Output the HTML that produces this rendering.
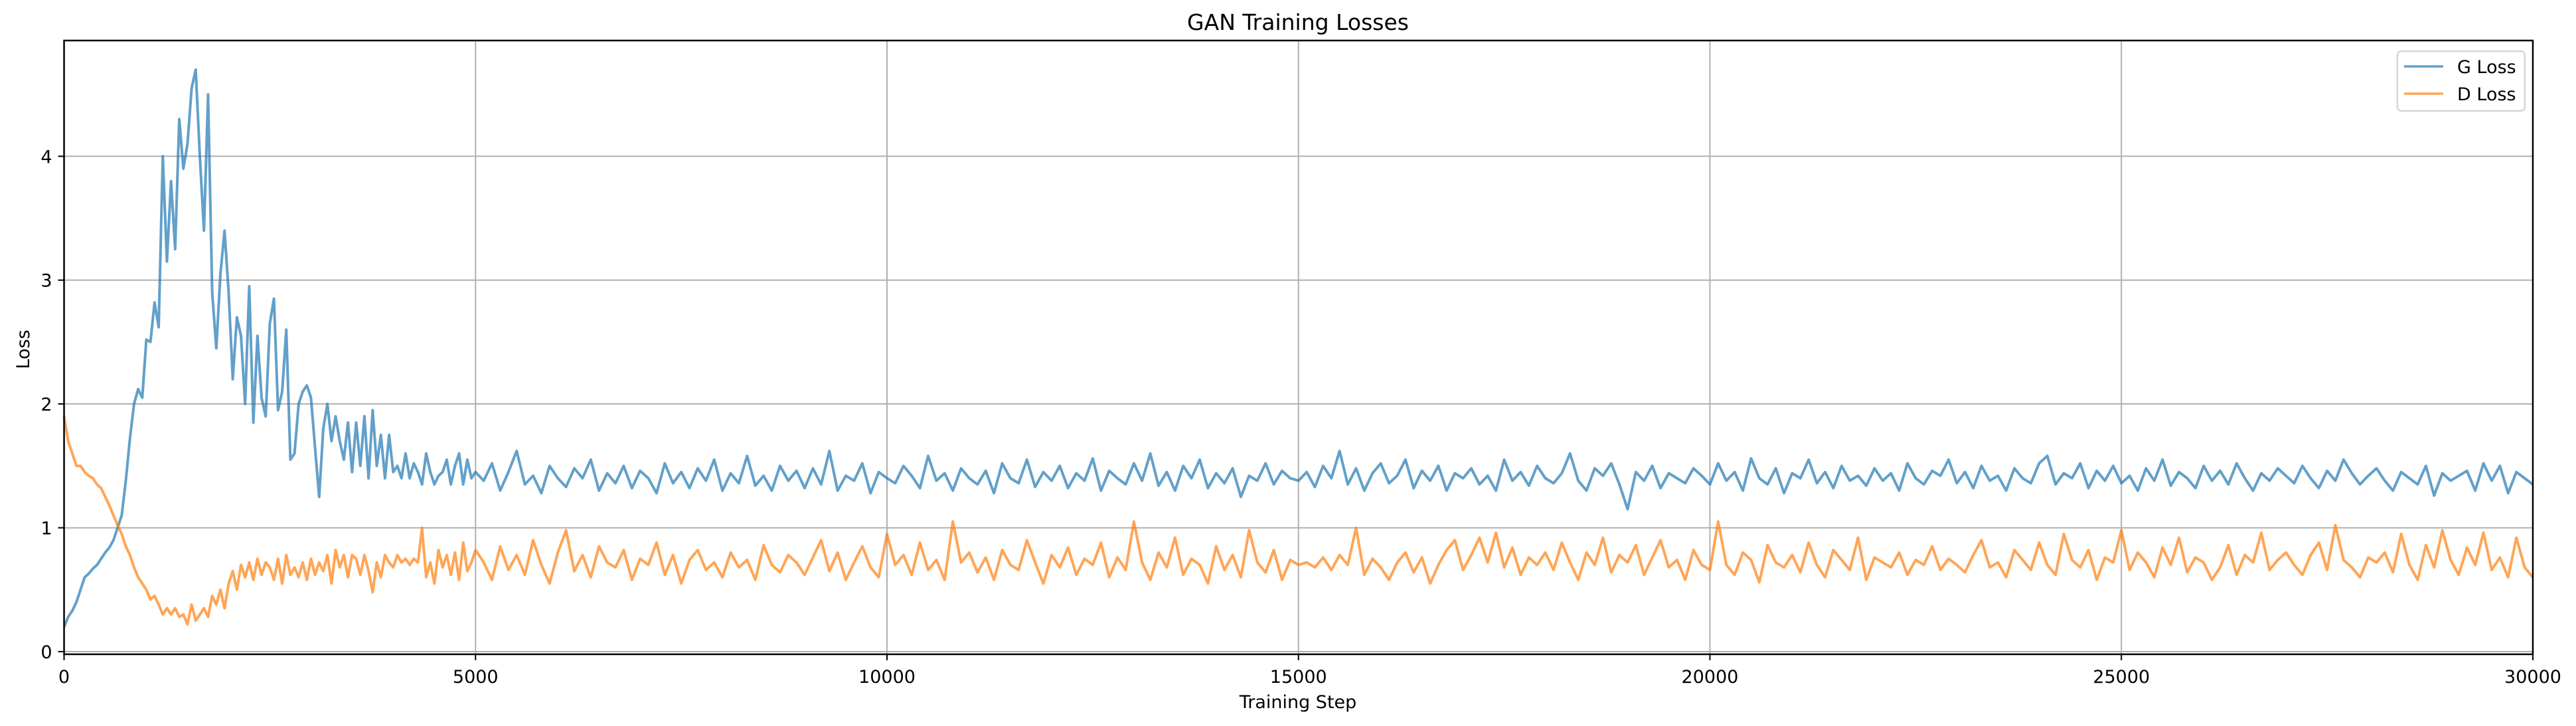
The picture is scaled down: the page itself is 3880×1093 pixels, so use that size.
<!DOCTYPE html>
<html><head><meta charset="utf-8"><style>
html,body{margin:0;padding:0;background:#fff;}
svg{display:block;font-family:"DejaVu Sans","Liberation Sans",sans-serif;}
</style></head><body>
<svg id="chart" width="3880" height="1093" viewBox="0 0 3880 1093" xmlns="http://www.w3.org/2000/svg">
<rect width="3880" height="1093" fill="#fff"/>
<text x="1955" y="45" font-size="33" text-anchor="middle" fill="#000">GAN Training Losses</text>
<text x="1955" y="1066" font-size="27" text-anchor="middle" fill="#000">Training Step</text>
<text x="0" y="0" font-size="27" text-anchor="middle" fill="#000" transform="translate(44,526) rotate(-90)">Loss</text>
<g id="grid"></g>
<g id="series"></g>
<g id="axes"></g>
<g>
<rect x="3611" y="77" width="192" height="90" rx="6" fill="#fff" fill-opacity="0.8" stroke="#d6d6d6" stroke-width="2.5"/>
<line x1="3621" y1="100" x2="3680" y2="100" stroke="#1f77b4" stroke-opacity="0.7" stroke-width="3.5"/>
<text x="3701" y="110" font-size="27" fill="#000">G Loss</text>
<line x1="3621" y1="141" x2="3680" y2="141" stroke="#ff7f0e" stroke-opacity="0.7" stroke-width="3.5"/>
<text x="3701" y="151" font-size="27" fill="#000">D Loss</text>
</g>
</svg>
<script>
const xTicks = [0,5000,10000,15000,20000,25000,30000];
const yTicks = [0,1,2,3,4];
const gLoss = [
0.20,0.28,0.33,0.40,0.50,0.60,0.63,0.67,0.70,0.75,0.80,0.84,0.90,1.00,1.10,1.38,1.72,2.00,2.12,2.05,
2.52,2.50,2.82,2.62,4.00,3.15,3.80,3.25,4.30,3.90,4.10,4.55,4.70,4.00,3.40,4.50,2.90,2.45,3.05,3.40,
2.90,2.20,2.70,2.55,2.00,2.95,1.85,2.55,2.05,1.90,2.65,2.85,1.95,2.10,2.60,1.55,1.60,2.00,2.10,2.15,
2.05,1.65,1.25,1.80,2.00,1.70,1.90,1.70,1.55,1.85,1.45,1.85,1.50,1.90,1.40,1.95,1.50,1.75,1.40,1.75,
1.45,1.50,1.40,1.60,1.40,1.52,1.45,1.35,1.60,1.45,1.35,1.42,1.45,1.55,1.35,1.50,1.60,1.35,1.55,1.40,1.45,
1.38,1.52,1.30,1.45,1.62,1.35,1.42,1.28,1.50,1.40,
1.33,1.48,1.40,1.55,1.30,1.44,1.36,1.50,1.32,1.46,
1.40,1.28,1.52,1.36,1.45,1.32,1.48,1.38,1.55,1.30,
1.44,1.36,1.58,1.34,1.42,1.30,1.50,1.38,1.46,1.32,
1.48,1.35,1.62,1.30,1.42,1.38,1.52,1.28,1.45,1.40,
1.36,1.50,1.42,1.32,1.58,1.38,1.44,1.30,1.48,1.40,
1.35,1.46,1.28,1.52,1.40,1.36,1.55,1.33,1.45,1.38,
1.50,1.32,1.44,1.38,1.56,1.30,1.46,1.40,1.35,1.52,
1.38,1.60,1.34,1.45,1.30,1.50,1.40,1.55,1.32,1.44,
1.36,1.48,1.25,1.42,1.38,1.52,1.35,1.46,1.40,1.38,
1.45,1.33,1.50,1.40,1.62,1.35,1.48,1.30,1.44,1.52,
1.36,1.42,1.55,1.32,1.46,1.38,1.50,1.30,1.44,1.40,
1.48,1.35,1.42,1.30,1.55,1.38,1.45,1.34,1.50,1.40,
1.36,1.44,1.60,1.38,1.30,1.48,1.42,1.52,1.35,1.15,
1.45,1.38,1.50,1.32,1.44,1.40,1.36,1.48,1.42,1.35,
1.52,1.38,1.45,1.30,1.56,1.40,1.35,1.48,1.28,1.44,
1.40,1.55,1.36,1.45,1.32,1.50,1.38,1.42,1.34,1.48,
1.38,1.44,1.30,1.52,1.40,1.35,1.46,1.42,1.55,1.36,
1.45,1.32,1.50,1.38,1.42,1.30,1.48,1.40,1.36,1.52,
1.58,1.35,1.44,1.40,1.52,1.32,1.46,1.38,1.50,1.36,
1.42,1.30,1.48,1.38,1.55,1.34,1.45,1.40,1.32,1.50,
1.38,1.46,1.35,1.52,1.40,1.30,1.44,1.38,1.48,1.42,
1.36,1.50,1.40,1.32,1.46,1.38,1.55,1.44,1.35,1.42,
1.48,1.38,1.30,1.45,1.40,1.35,1.50,1.26,1.44,1.38,
1.42,1.46,1.30,1.52,1.38,1.50,1.28,1.45,1.40,1.35
];
const dLoss = [
1.90,1.70,1.60,1.50,1.50,1.45,1.42,1.40,1.35,1.32,1.25,1.18,1.10,1.02,0.95,0.85,0.78,0.68,0.60,0.55,
0.50,0.42,0.45,0.38,0.30,0.35,0.30,0.35,0.28,0.30,0.22,0.38,0.25,0.30,0.35,0.28,0.45,0.38,0.50,0.35,
0.55,0.65,0.50,0.70,0.60,0.72,0.58,0.75,0.62,0.72,0.68,0.58,0.75,0.55,0.78,0.62,0.68,0.60,0.72,0.58,
0.75,0.62,0.72,0.65,0.78,0.55,0.82,0.68,0.78,0.60,0.78,0.75,0.62,0.78,0.65,0.48,0.72,0.60,0.78,0.72,
0.68,0.78,0.72,0.75,0.70,0.75,0.72,1.00,0.60,0.72,0.55,0.82,0.68,0.78,0.62,0.80,0.58,0.88,0.65,0.72,0.82,
0.72,0.58,0.85,0.66,0.78,0.62,0.90,0.70,0.55,0.80,
0.98,0.65,0.78,0.60,0.85,0.72,0.68,0.82,0.58,0.75,
0.70,0.88,0.62,0.78,0.55,0.74,0.82,0.66,0.72,0.60,
0.80,0.68,0.74,0.58,0.86,0.70,0.64,0.78,0.72,0.62,
0.76,0.90,0.65,0.80,0.58,0.72,0.85,0.68,0.60,0.95,
0.70,0.78,0.62,0.88,0.66,0.74,0.58,1.05,0.72,0.80,
0.64,0.76,0.58,0.82,0.70,0.66,0.90,0.72,0.55,0.78,
0.68,0.84,0.62,0.75,0.70,0.88,0.60,0.76,0.66,1.05,
0.72,0.58,0.80,0.68,0.92,0.62,0.75,0.70,0.55,0.85,
0.66,0.78,0.60,0.98,0.72,0.64,0.82,0.58,0.74,0.70,
0.72,0.68,0.76,0.66,0.78,0.70,1.00,0.62,0.75,0.68,
0.58,0.72,0.80,0.64,0.76,0.55,0.70,0.82,0.90,0.66,
0.78,0.92,0.72,0.96,0.68,0.84,0.62,0.76,0.70,0.80,
0.66,0.88,0.72,0.58,0.80,0.70,0.92,0.64,0.78,0.72,
0.86,0.62,0.76,0.90,0.68,0.74,0.58,0.82,0.70,0.66,
1.05,0.70,0.62,0.80,0.74,0.56,0.86,0.72,0.68,0.78,
0.64,0.88,0.70,0.60,0.82,0.74,0.66,0.92,0.58,0.76,
0.72,0.68,0.80,0.62,0.74,0.70,0.85,0.66,0.75,0.70,
0.64,0.78,0.90,0.68,0.72,0.60,0.82,0.74,0.66,0.88,
0.70,0.62,0.95,0.74,0.68,0.82,0.58,0.76,0.72,0.98,
0.66,0.80,0.72,0.60,0.84,0.70,0.92,0.64,0.76,0.72,
0.58,0.68,0.86,0.62,0.78,0.72,0.96,0.66,0.74,0.80,
0.70,0.62,0.78,0.88,0.66,1.02,0.74,0.68,0.60,0.76,
0.72,0.80,0.64,0.95,0.70,0.58,0.86,0.68,0.98,0.74,
0.62,0.84,0.70,0.96,0.66,0.76,0.60,0.92,0.68,0.60
];
const steps = gLoss.map((_, i) => i <= 100 ? i * 50 : 5000 + (i - 100) * 100);

const NS = "http://www.w3.org/2000/svg";
const L = 96.5, R = 3815, T = 61, B = 985;
const xMin = 0, xMax = 30000, yMin = -0.0215, yMax = 4.935;
const xs = v => L + (v - xMin) / (xMax - xMin) * (R - L);
const ys = v => B - (v - yMin) / (yMax - yMin) * (B - T);

function mk(tag, attrs, parent) {
  const e = document.createElementNS(NS, tag);
  for (const k in attrs) e.setAttribute(k, attrs[k]);
  parent.appendChild(e);
  return e;
}
const grid = document.getElementById('grid');
const axes = document.getElementById('axes');
const series = document.getElementById('series');

xTicks.forEach(t => {
  const x = xs(t);
  const g = mk('line', {x1: x, y1: T, x2: x, y2: B, stroke: '#b0b0b0', 'stroke-width': 2}, grid);
  
  
  const tk = mk('line', {x1: x, y1: B, x2: x, y2: B + 9, stroke: '#000', 'stroke-width': 2}, axes);
  
  
  const lb = mk('text', {x: x, y: B + 43, 'font-size': 27, 'text-anchor': 'middle', fill: '#000'}, axes);
  lb.textContent = String(t);
  
  
});
yTicks.forEach(t => {
  const y = ys(t);
  const g = mk('line', {x1: L, y1: y, x2: R, y2: y, stroke: '#b0b0b0', 'stroke-width': 2}, grid);
  
  
  const tk = mk('line', {x1: L - 9, y1: y, x2: L, y2: y, stroke: '#000', 'stroke-width': 2}, axes);
  
  
  const lb = mk('text', {x: L - 18, y: y + 10, 'font-size': 27, 'text-anchor': 'end', fill: '#000'}, axes);
  lb.textContent = String(t);
  
  
});

function drawLine(vals, color, name) {
  const d = vals.map((v, i) => (i ? 'L' : 'M') + xs(steps[i]).toFixed(1) + ',' + ys(v).toFixed(1)).join('');
  const p = mk('path', {d: d, fill: 'none', stroke: color, 'stroke-opacity': 0.7, 'stroke-width': 4, 'stroke-linejoin': 'round'}, series);
  
  
}
drawLine(gLoss, '#1f77b4', 'g-loss-line');
drawLine(dLoss, '#ff7f0e', 'd-loss-line');

const frame = mk('rect', {x: L, y: T, width: R - L, height: B - T, fill: 'none', stroke: '#000', 'stroke-width': 2.5}, axes);


</script>
</body></html>
